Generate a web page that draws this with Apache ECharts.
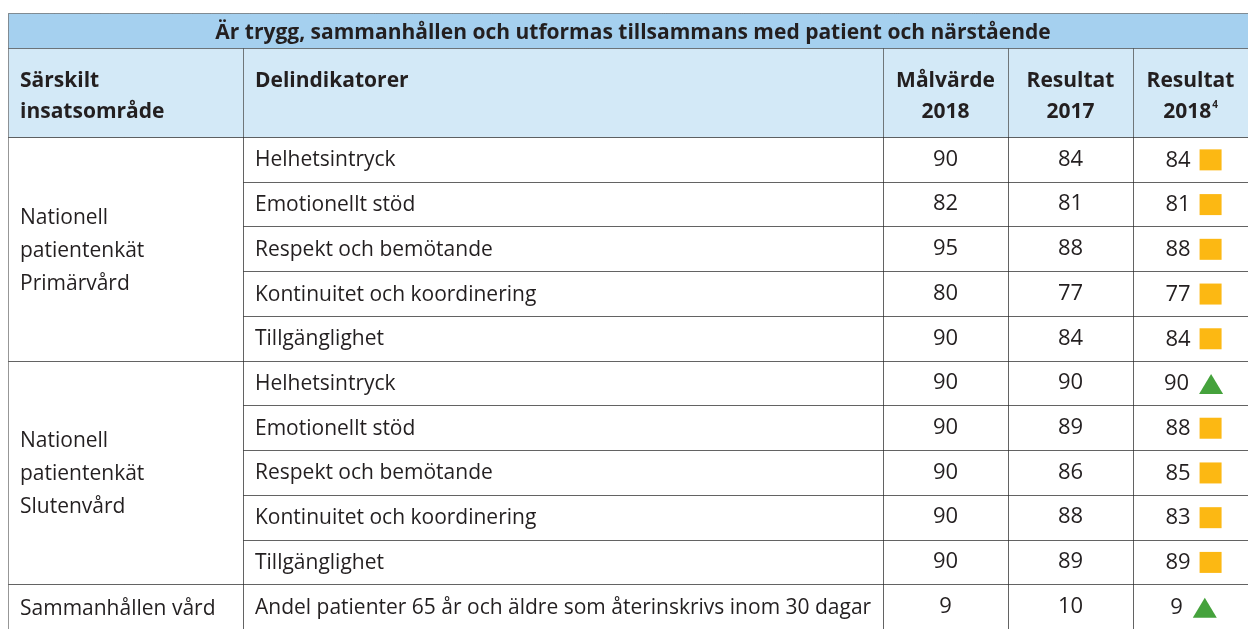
<!DOCTYPE html>
<html>
<head>
<meta charset="utf-8">
<script src="https://cdn.jsdelivr.net/npm/echarts@6/dist/echarts.min.js"></script>
<style>
  html, body { margin: 0; padding: 0; background: #fff; }
  #chart { width: 1248px; height: 629px; }
</style>
</head>
<body>
<div id="chart"></div>
<script>
const titleText = 'Är trygg, sammanhållen och utformas tillsammans med patient och närstående'
const headers = ['Särskilt\ninsatsområde', 'Delindikatorer', 'Målvärde\n2018', 'Resultat\n2017', 'Resultat\n2018{sup|4}']
const areas = ['Nationell\npatientenkät\nPrimärvård', 'Nationell\npatientenkät\nSlutenvård', 'Sammanhållen vård']
const areaRowCounts = [5, 5, 1]
const indicators = [
  'Helhetsintryck', 'Emotionellt stöd', 'Respekt och bemötande', 'Kontinuitet och koordinering', 'Tillgänglighet',
  'Helhetsintryck', 'Emotionellt stöd', 'Respekt och bemötande', 'Kontinuitet och koordinering', 'Tillgänglighet',
  'Andel patienter 65 år och äldre som återinskrivs inom 30 dagar',
]
const target2018 = [90, 82, 95, 80, 90, 90, 90, 90, 90, 90, 9]
const result2017 = [84, 81, 88, 77, 84, 90, 89, 86, 88, 89, 10]
const result2018 = [84, 81, 88, 77, 84, 90, 88, 85, 83, 89, 9]
// 'delvis' = yellow square, 'uppnått' = green triangle
const status = ['delvis', 'delvis', 'delvis', 'delvis', 'delvis', 'uppnått', 'delvis', 'delvis', 'delvis', 'delvis', 'uppnått']

// layout
const FONT = '"Open Sans", Lato, sans-serif'
const COL_EDGES = [0, 235, 875, 1000, 1125, 1240]
const TEXT = '#231f20'
const BORDER = '#2e2e2e'
const TITLE_BG = '#a5d0ef'
const HEADER_BG = '#d3e9f7'
const SQUARE = '#fcb813'
const TRIANGLE = '#45a23c'

const measureCtx = document.createElement('canvas').getContext('2d')
function textWidth(t, font) {
  measureCtx.font = font
  return measureCtx.measureText(t).width
}

const px = v => Math.round(v) + 0.5

function cell(x0, y0, x1, y1, fill) {
  return {
    type: 'rect',
    shape: { x: px(x0), y: px(y0), width: Math.round(x1) - Math.round(x0), height: Math.round(y1) - Math.round(y0) },
    style: { fill: fill || 'none', stroke: BORDER, lineWidth: 1, lineDash: [1, 1] },
  }
}

function renderTitle(params, api) {
  const [x0, y0] = api.coord([COL_EDGES[0], 0])
  const [x1, y1] = api.coord([COL_EDGES[COL_EDGES.length - 1], 1])
  return {
    type: 'group',
    children: [
      cell(x0, y0, x1, y1, TITLE_BG),
      {
        type: 'text',
        style: {
          x: (x0 + x1) / 2 + 5, y: (y0 + y1) / 2 + 3,
          text: titleText, fill: TEXT,
          font: `bold 21px ${FONT}`,
          align: 'center', verticalAlign: 'middle',
        },
      },
    ],
  }
}

function renderHeader(params, api) {
  const c = params.dataIndex
  const [x0, y0] = api.coord([COL_EDGES[c], 0])
  const [x1, y1] = api.coord([COL_EDGES[c + 1], 1])
  const left = c < 2
  return {
    type: 'group',
    children: [
      cell(x0, y0, x1, y1, HEADER_BG),
      {
        type: 'text',
        style: {
          x: left ? x0 + 12 : (x0 + x1) / 2, y: y0 + 18,
          text: headers[c], fill: TEXT,
          fontFamily: FONT, fontSize: 21, fontWeight: 'bold', lineHeight: 31,
          align: left ? 'left' : 'center', verticalAlign: 'top',
          rich: { sup: { fontFamily: FONT, fontSize: 10, fontWeight: 'bold', padding: [0, 0, 14, 1], fill: TEXT } },
        },
      },
    ],
  }
}

function renderArea(params, api) {
  const i = params.dataIndex
  const start = api.value(0)
  const end = api.value(1)
  const [x0, y0] = api.coord([COL_EDGES[0], start])
  const [x1, y1] = api.coord([COL_EDGES[1], end])
  return {
    type: 'group',
    children: [
      cell(x0, y0, x1, y1),
      {
        type: 'text',
        style: {
          x: x0 + 12, y: (y0 + y1) / 2 + 2,
          text: areas[i], fill: TEXT,
          fontFamily: FONT, fontSize: 21, lineHeight: 33,
          align: 'left', verticalAlign: 'middle',
        },
      },
    ],
  }
}

function renderRow(params, api) {
  const r = api.value(0)
  const children = []
  const edges = COL_EDGES.map(e => api.coord([e, r])[0])
  const y0 = api.coord([0, r])[1]
  const y1 = api.coord([0, r + 1])[1]
  const cy = (y0 + y1) / 2
  for (let c = 1; c < 5; c++) children.push(cell(edges[c], y0, edges[c + 1], y1))

  children.push({
    type: 'text',
    style: { x: edges[1] + 12, y: cy + 1, text: indicators[r], fill: TEXT, font: `21px ${FONT}`, align: 'left', verticalAlign: 'middle' },
  })
  const numFont = `22px ${FONT}`
  const nums = [target2018[r], result2017[r]]
  nums.forEach((v, k) => {
    children.push({
      type: 'text',
      style: { x: (edges[2 + k] + edges[3 + k]) / 2, y: cy, text: String(v), fill: TEXT, font: numFont, align: 'center', verticalAlign: 'middle' },
    })
  })

  // result 2018 + status marker, centred as a group
  const t = String(result2018[r])
  const tri = status[r] === 'uppnått'
  const mw = tri ? 24 : 22
  const gap = tri ? 10 : 9
  const tw = textWidth(t, numFont)
  const gx = (edges[4] + edges[5]) / 2 + 3 - (tw + gap + mw) / 2
  children.push({
    type: 'text',
    style: { x: gx, y: cy + 1, text: t, fill: TEXT, font: numFont, align: 'left', verticalAlign: 'middle' },
  })
  const mx = gx + tw + gap
  if (tri) {
    children.push({
      type: 'polygon',
      shape: { points: [[mx, cy + 11], [mx + mw / 2, cy - 9], [mx + mw, cy + 11]] },
      style: { fill: TRIANGLE },
    })
  } else {
    children.push({
      type: 'rect',
      shape: { x: mx, y: cy - 10, width: mw, height: 21 },
      style: { fill: SQUARE },
    })
  }
  return { type: 'group', children }
}

// area spans as [startRow, endRow]
const areaSpans = []
let acc = 0
areaRowCounts.forEach(n => { areaSpans.push([acc, acc + n]); acc += n })

const chart = echarts.init(document.getElementById('chart'), null, { renderer: 'canvas' })
const xAxisBase = { type: 'value', min: 0, max: COL_EDGES[COL_EDGES.length - 1], show: false }

chart.setOption({
  animation: false,
  backgroundColor: '#fff',
  grid: [
    { left: 8, right: 0, top: 13, height: 35 },
    { left: 8, right: 0, top: 48, height: 89 },
    { left: 8, right: 0, top: 137, height: 499 },
  ],
  xAxis: [0, 1, 2].map(i => ({ ...xAxisBase, gridIndex: i })),
  yAxis: [
    { type: 'value', gridIndex: 0, min: 0, max: 1, inverse: true, show: false },
    { type: 'value', gridIndex: 1, min: 0, max: 1, inverse: true, show: false },
    { type: 'value', gridIndex: 2, min: 0, max: indicators.length, inverse: true, show: false },
  ],
  series: [
    { type: 'custom', xAxisIndex: 0, yAxisIndex: 0, data: [[0, 0]], renderItem: renderTitle, silent: true },
    { type: 'custom', xAxisIndex: 1, yAxisIndex: 1, data: headers.map((h, i) => [i, 0]), renderItem: renderHeader, silent: true },
    { type: 'custom', xAxisIndex: 2, yAxisIndex: 2, data: indicators.map((d, i) => [i]), renderItem: renderRow, silent: true },
    { type: 'custom', xAxisIndex: 2, yAxisIndex: 2, data: areaSpans, renderItem: renderArea, silent: true },
  ],
})
</script>
</body>
</html>
